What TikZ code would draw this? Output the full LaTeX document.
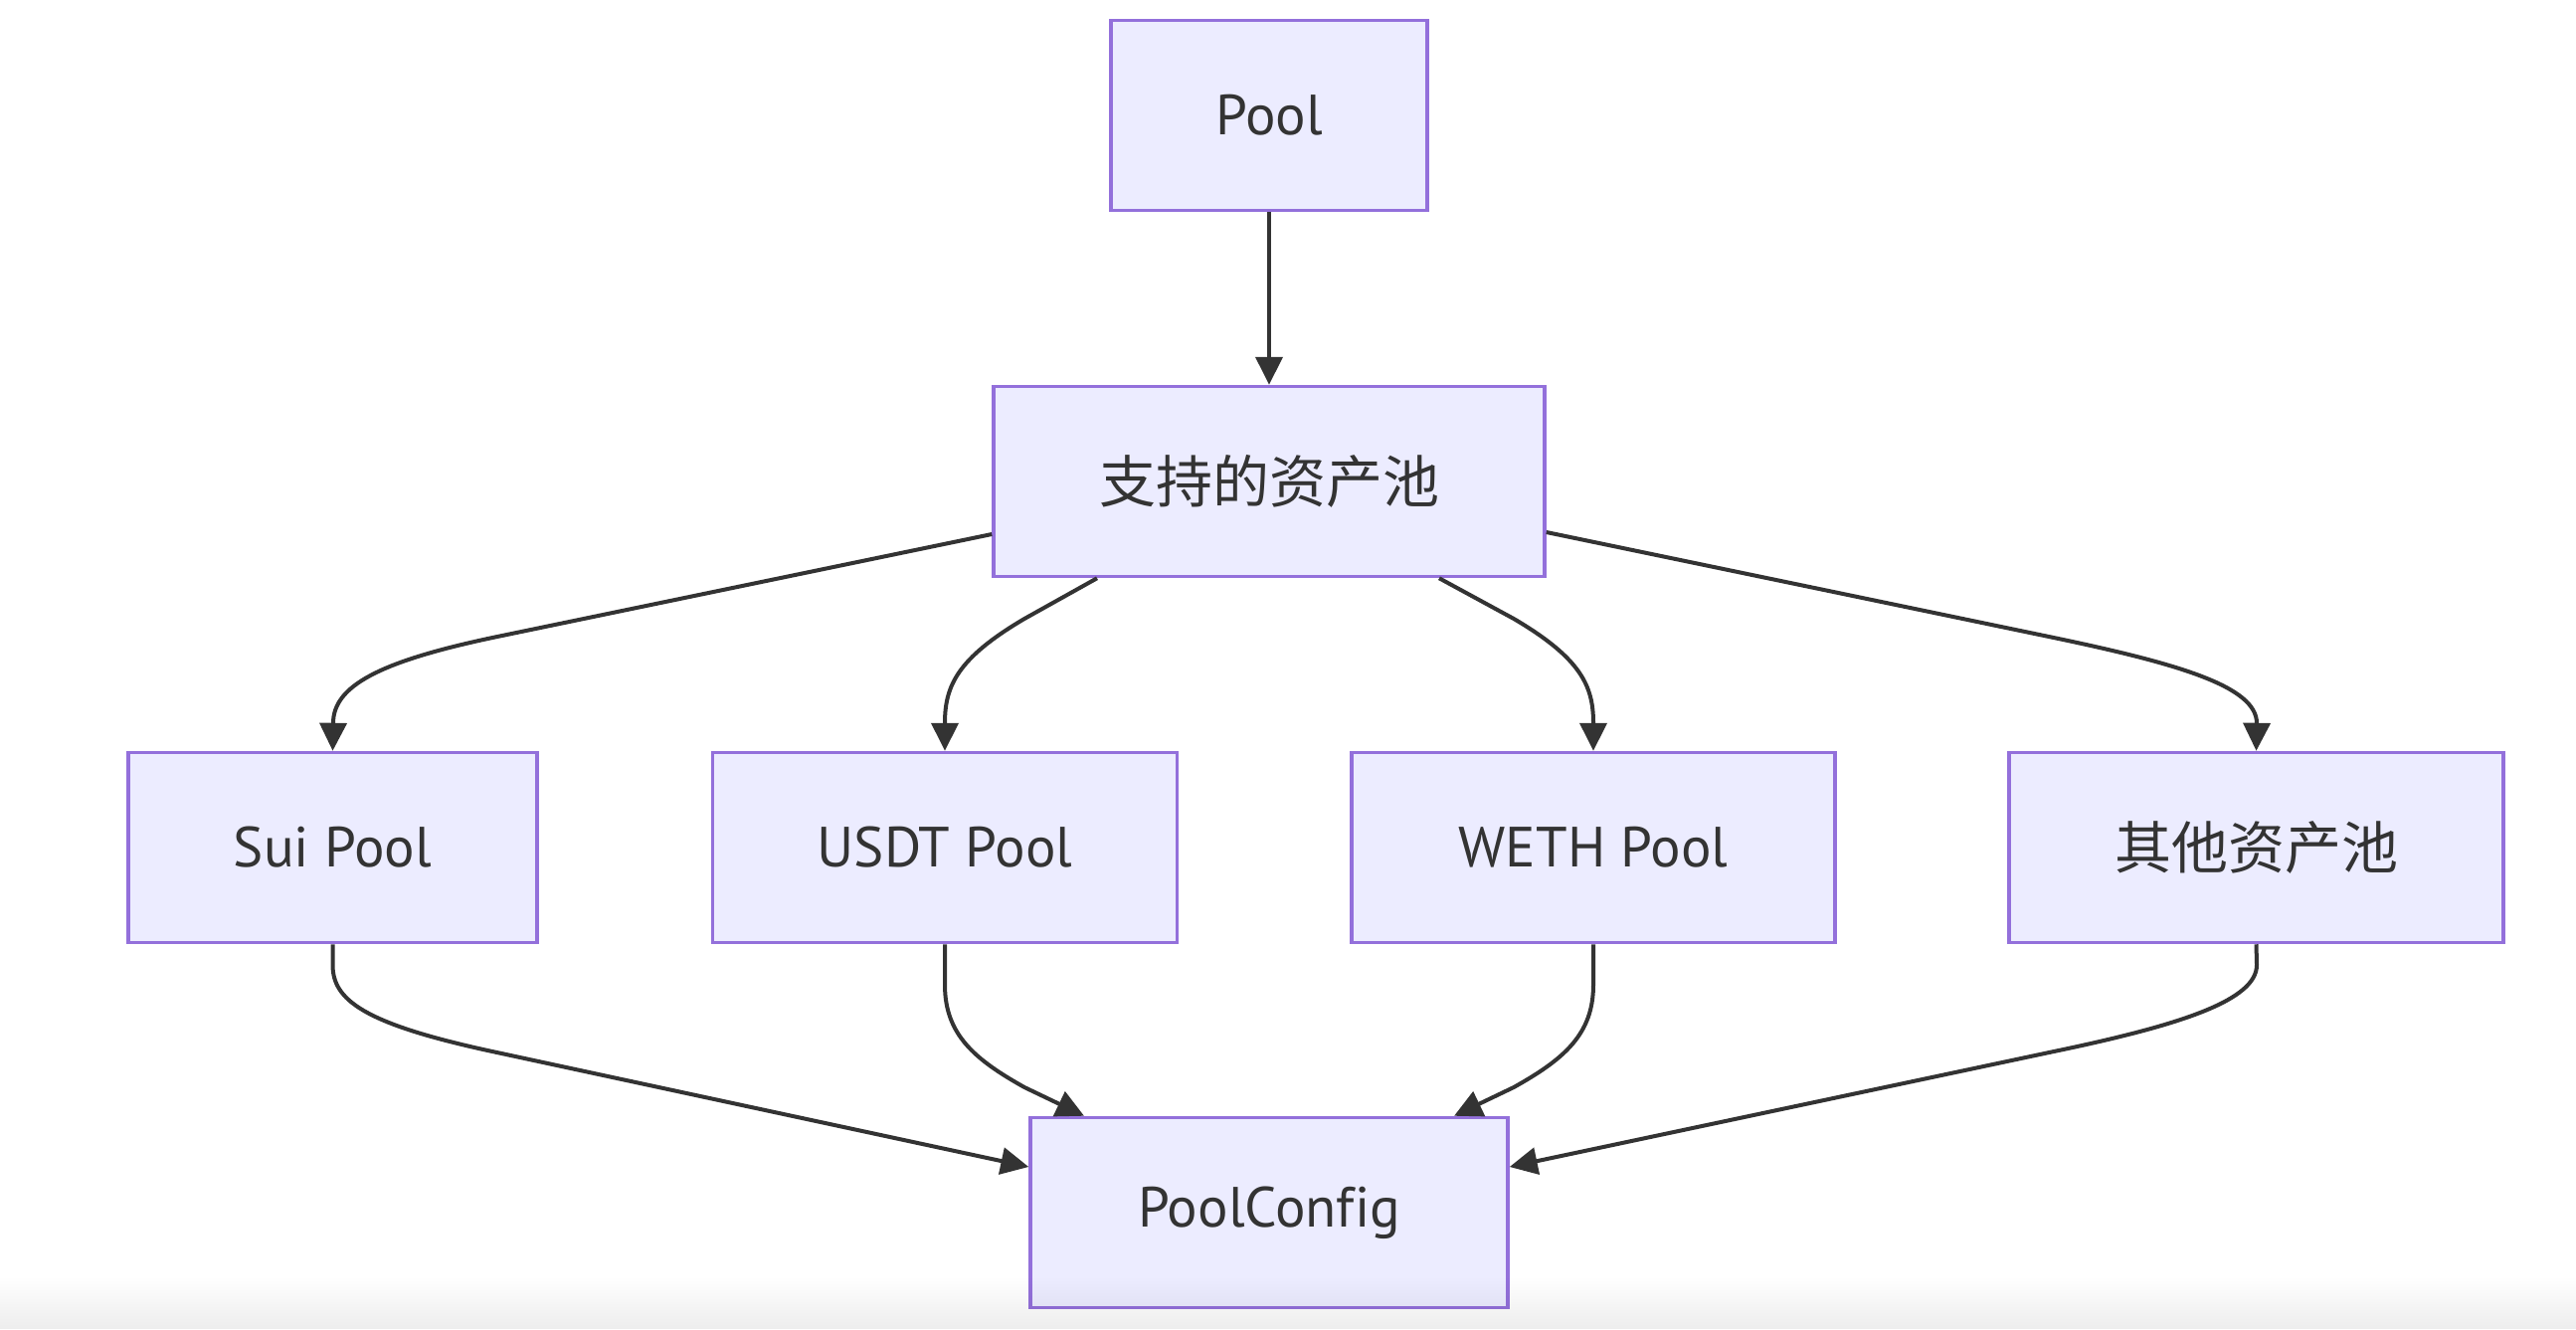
\documentclass[tikz,border=0pt]{standalone}
\usepackage{fontspec}
\setmainfont[Ligatures=CommonOff]{PT Sans}
\newfontfamily\cjk{Noto Sans CJK SC}
\usetikzlibrary{arrows.meta,fadings}
\definecolor{boxfill}{HTML}{ECECFF}
\definecolor{boxline}{HTML}{9370DB}
\definecolor{edgecol}{HTML}{333333}
\begin{document}
\begin{tikzpicture}[x=1pt,y=-1pt,
  box/.style={draw=boxline, fill=boxfill, line width=3.5pt, minimum height=191pt,
    inner sep=0pt, text=edgecol, font=\fontsize{57}{64}\selectfont},
  edge/.style={draw=edgecol, line width=4pt, -{Triangle[length=28pt,width=27pt]}}]
\useasboundingbox (0,0) rectangle (2590,1336);
\fill[white] (0,0) rectangle (2590,1336);

\node[box, minimum width=318pt] (pool) at (1276,116) {Pool};
\node[box, minimum width=554pt] (sup) at (1276,484) {\cjk 支持的资产池};
\node[box, minimum width=411pt] (sui) at (334.5,852) {Sui Pool};
\node[box, minimum width=467pt] (usdt) at (950,852) {USDT Pool};
\node[box, minimum width=486pt] (weth) at (1602,852) {WETH Pool};
\node[box, minimum width=497pt] (other) at (2268.5,852) {\cjk 其他资产池};
\node[box, minimum width=480pt] (cfg) at (1276,1219) {PoolConfig};

\draw[edge] (pool) -- (sup);

\draw[edge] ([yshift=-53pt]sup.west) -- (500,640)
  .. controls (380,665) and (335,690) .. (335,727) -- (sui.north);
\draw[edge] ([xshift=-173pt]sup.south) -- (1030,622)
  .. controls (962,662) and (950,690) .. (950,727) -- (usdt.north);
\draw[edge] ([xshift=171pt]sup.south) -- (1522,622)
  .. controls (1590,662) and (1602,690) .. (1602,727) -- (weth.north);
\draw[edge] ([yshift=-51pt]sup.east) -- (2060,640)
  .. controls (2190,667) and (2269,690) .. (2269,727) -- (other.north);

\draw[edge] (sui.south) -- (334.5,970)
  .. controls (334.5,1005) and (365,1029) .. (495,1057) -- ([yshift=46pt]cfg.west);
\draw[edge] (usdt.south) -- (950,990)
  .. controls (950,1040) and (980,1065) .. (1030,1093) -- ([xshift=-186pt]cfg.north);
\draw[edge] (weth.south) -- (1602,990)
  .. controls (1602,1040) and (1572,1065) .. (1522,1093) -- ([xshift=186pt]cfg.north);
\draw[edge] (other.south) -- (2269,970)
  .. controls (2269,1005) and (2195,1030) .. (2065,1057) -- ([yshift=46pt]cfg.east);

\fill[black, opacity=0.07, path fading=north] (0,1283) rectangle (2590,1336);
\end{tikzpicture}
\end{document}
